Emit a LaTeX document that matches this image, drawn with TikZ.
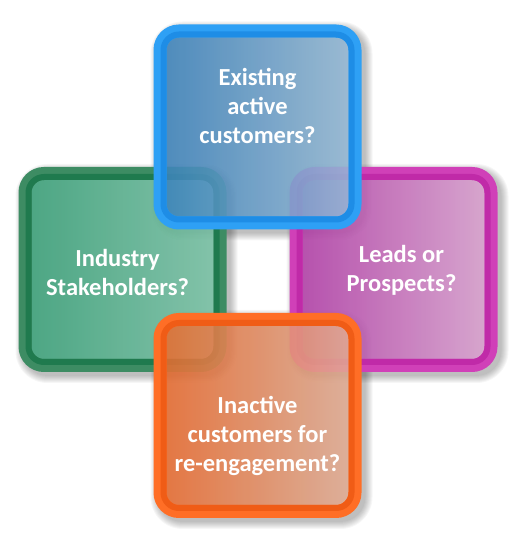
\documentclass[tikz,border=0pt]{standalone}
\usepackage{fontspec}
\setmainfont{Carlito}
\usetikzlibrary{backgrounds}

% rim, inner band, left and right fill of each box
\definecolor{qblueRim}{HTML}{2EA0F5}
\definecolor{qblueBand}{HTML}{1E8DE6}
\definecolor{qblueL}{HTML}{3A82BC}
\definecolor{qblueR}{HTML}{97BBD7}
\definecolor{qgreenRim}{HTML}{3D8C63}
\definecolor{qgreenBand}{HTML}{1F7A4E}
\definecolor{qgreenL}{HTML}{38A279}
\definecolor{qgreenR}{HTML}{7BC5A8}
\definecolor{qpinkRim}{HTML}{D040B8}
\definecolor{qpinkBand}{HTML}{C02AA8}
\definecolor{qpinkL}{HTML}{B53DAA}
\definecolor{qpinkR}{HTML}{DDA4D2}
\definecolor{qorangeRim}{HTML}{FF6E26}
\definecolor{qorangeBand}{HTML}{F05C16}
\definecolor{qorangeL}{HTML}{EB6A2C}
\definecolor{qorangeR}{HTML}{E2AF97}

\tikzset{
  qbox/.style={rectangle, rounded corners=19pt, minimum width=195pt, minimum height=192pt,
    inner sep=0pt, outer sep=0pt, line width=13pt, draw=#1Rim, draw opacity=1,
    left color=#1L, right color=#1R, fill opacity=0.85},
  qband/.style={draw=#1Band, line width=6pt, rounded corners=15.5pt},
  qtext/.style={text=white, align=center, font=\bfseries\fontsize{24.5}{29}\selectfont},
}

\begin{document}
\begin{tikzpicture}[x=1pt, y=1pt]
        \useasboundingbox (0,0) rectangle (516,535);

        % Side boxes first
        \node[qbox=qgreen] (stake) at (122.5,265.5) {};
        \draw[qband=qgreen] ([shift={(3.5,-3.5)}]stake.north west) rectangle ([shift={(-3.5,3.5)}]stake.south east);

        \node[qbox=qpink] (leads) at (393.5,265.5) {};
        \draw[qband=qpink] ([shift={(3.5,-3.5)}]leads.north west) rectangle ([shift={(-3.5,3.5)}]leads.south east);

        % Top and bottom boxes over them
        \node[qbox=qblue] (active) at (257.5,408) {};
        \draw[qband=qblue] ([shift={(3.5,-3.5)}]active.north west) rectangle ([shift={(-3.5,3.5)}]active.south east);

        \node[qbox=qorange] (inactive) at (257.5,119.5) {};
        \draw[qband=qorange] ([shift={(3.5,-3.5)}]inactive.north west) rectangle ([shift={(-3.5,3.5)}]inactive.south east);

        % Labels
        \node[qtext] (active-t) at ([yshift=21pt]active.center) {Existing\\active\\customers?};
        \node[qtext] (stake-t) at ([shift={(-5pt,-3pt)}]stake.center) {Industry\\Stakeholders?};
        \node[qtext] (leads-t) at ([shift={(8pt,-1pt)}]leads.center) {Leads or\\Prospects?};
        \node[qtext] (inactive-t) at ([yshift=-20pt]inactive.center) {Inactive\\customers for\\re-engagement?};

        % Soft shadows behind everything
        \begin{scope}[on background layer]
          \foreach \b in {stake, leads, active, inactive}
            \foreach \g in {0,...,7}
              \fill[black, opacity=0.035, rounded corners=25pt+\g pt]
                ([shift={(-2.5-\g,2.5+\g)}]\b.north west) rectangle ([shift={(10.5+\g,-10.5-\g)}]\b.south east);
        \end{scope}
\end{tikzpicture}
\end{document}
